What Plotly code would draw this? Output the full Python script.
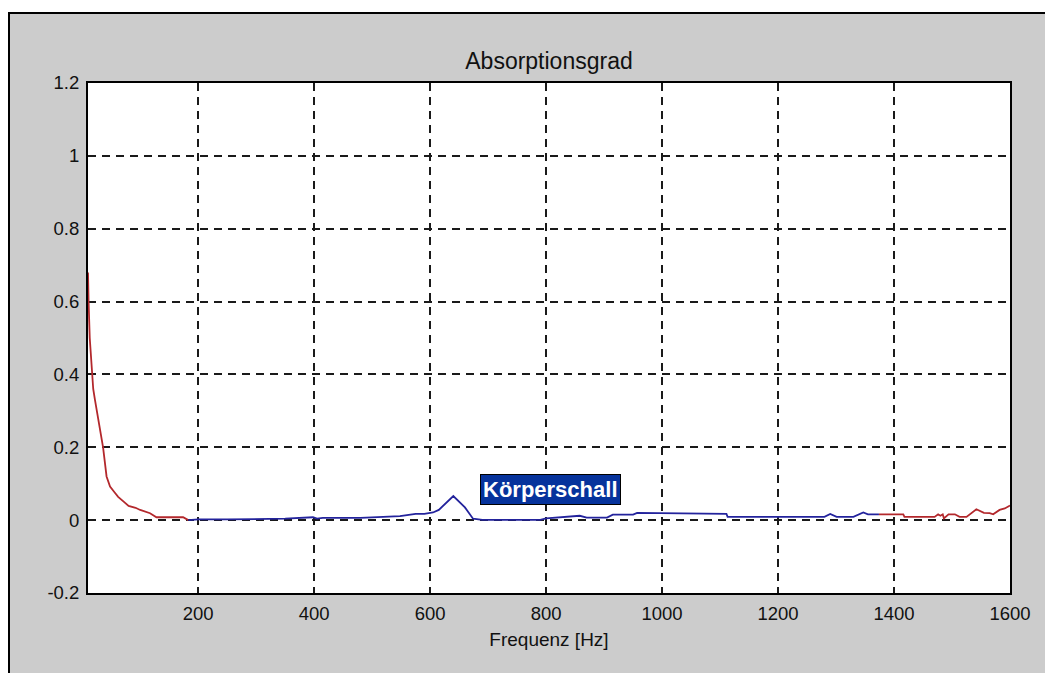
import plotly.graph_objects as go

# ---- data ----
freq_low = [10, 10, 11, 13, 16, 19, 22, 27, 31, 36, 42, 48, 55, 62, 72, 80, 92, 100, 117, 128, 150, 174, 183]
abs_low = [0.68, 0.65, 0.60, 0.50, 0.44, 0.36, 0.33, 0.28, 0.247, 0.20, 0.12, 0.092, 0.078, 0.064, 0.05, 0.039,
           0.034, 0.028, 0.019, 0.008, 0.008, 0.008, 0.0]

freq_mid = [183, 200, 250, 300, 350, 398, 405, 415, 480, 548, 560, 575, 590, 605, 615, 640, 660, 674, 690, 790,
            800, 847, 858, 870, 905, 915, 950, 957, 997, 1040, 1111, 1113, 1280, 1290, 1301, 1330, 1347, 1355, 1374]
abs_mid = [0.0, 0.002, 0.002, 0.003, 0.004, 0.008, 0.004, 0.006, 0.006, 0.011, 0.013, 0.017, 0.017, 0.021, 0.028,
           0.066, 0.035, 0.004, 0.001, 0.001, 0.005, 0.009, 0.012, 0.007, 0.007, 0.015, 0.015, 0.02, 0.019, 0.019,
           0.017, 0.009, 0.009, 0.017, 0.009, 0.009, 0.021, 0.016, 0.016]

freq_high = [1374, 1416, 1418, 1470, 1476, 1480, 1484, 1486, 1494, 1505, 1513, 1525, 1542, 1555, 1565, 1571,
             1582, 1591, 1600]
abs_high = [0.016, 0.016, 0.009, 0.009, 0.016, 0.012, 0.016, 0.005, 0.016, 0.016, 0.009, 0.009, 0.03, 0.02,
            0.019, 0.016, 0.028, 0.032, 0.04]

x_ticks = [200, 400, 600, 800, 1000, 1200, 1400, 1600]
x_tick_text = ["200", "400", "600", "800", "1000", "1200", "1400", "1600"]
y_ticks = [-0.2, 0, 0.2, 0.4, 0.6, 0.8, 1.0, 1.2]
y_tick_text = ["-0.2", "0", "0.2", "0.4", "0.6", "0.8", "1", "1.2"]

title_text = "Absorptionsgrad"
x_title = "Frequenz [Hz]"
label_text = "Körperschall"
label_pos = (807, 0.085)

RED = "#b3282c"
BLUE = "#23239c"
FONT = "Liberation Sans, Arial, sans-serif"

fig = go.Figure()
fig.add_trace(go.Scatter(x=freq_low, y=abs_low, mode="lines", line=dict(color=RED, width=1.8), showlegend=False))
fig.add_trace(go.Scatter(x=freq_mid, y=abs_mid, mode="lines", line=dict(color=BLUE, width=1.8), showlegend=False))
fig.add_trace(go.Scatter(x=freq_high, y=abs_high, mode="lines", line=dict(color=RED, width=1.8), showlegend=False))

W, H = 1045, 673
ml, mr, mt, mb = 88, 35, 83, 80
pw, ph = W - ml - mr, H - mt - mb

# gray frame with black border (top-left corner at (9,13) px)
fig.add_shape(type="rect", xref="paper", yref="paper", layer="below",
              x0=(9 - ml) / pw, x1=(W + 20 - ml) / pw,
              y0=-(H + 20 - mt - ph) / ph, y1=(mt + ph - 13) / ph,
              fillcolor="#cccccc", line=dict(color="black", width=2))
# white plotting area
fig.add_shape(type="rect", xref="paper", yref="paper", layer="below",
              x0=0, x1=1, y0=0, y1=1, fillcolor="white", line=dict(width=0))

fig.add_annotation(x=label_pos[0], y=label_pos[1], xref="x", yref="y", text="<b>" + label_text + "</b>",
                   showarrow=False, font=dict(family=FONT, size=22, color="white"),
                   bgcolor="#06339c", bordercolor="black", borderwidth=1, borderpad=2)

fig.update_layout(
    width=W, height=H,
    margin=dict(l=ml, r=mr, t=mt, b=mb, pad=0),
    paper_bgcolor="white", plot_bgcolor="white",
    font=dict(family=FONT, size=18, color="#111111"),
    title=dict(text=title_text, x=0.5, xref="paper", xanchor="center",
               y=1 - 61 / H, yref="container", yanchor="middle",
               font=dict(family=FONT, size=23, color="#111111")),
)
fig.update_xaxes(range=[10, 1600], tickvals=x_ticks, ticktext=x_tick_text,
                 showgrid=True, gridcolor="#1a1a1a", gridwidth=1.6, griddash="8px,6px",
                 zeroline=False, showline=True, linecolor="black", linewidth=2, mirror=True,
                 ticks="", ticklabelstandoff=3, tickfont=dict(size=18.5),
                 title=dict(text=x_title, font=dict(family=FONT, size=19, color="#111111"), standoff=9))
fig.update_yaxes(range=[-0.2, 1.2], tickvals=y_ticks, ticktext=y_tick_text,
                 showgrid=True, gridcolor="#1a1a1a", gridwidth=1.6, griddash="8px,6px",
                 zeroline=False, showline=True, linecolor="black", linewidth=2, mirror=True,
                 ticks="", ticklabelstandoff=3, tickfont=dict(size=18.5))

fig.write_html("out.html")
